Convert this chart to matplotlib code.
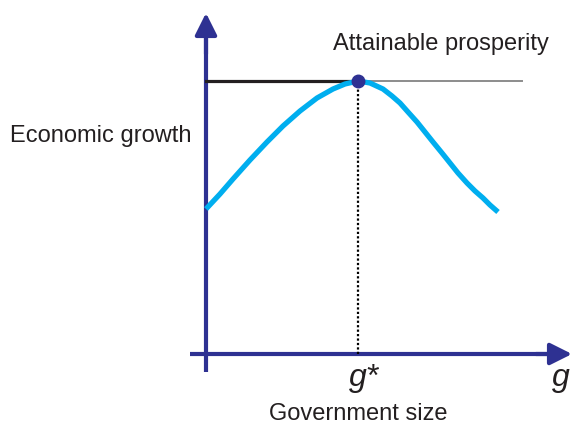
import matplotlib
matplotlib.use("Agg")
import matplotlib.pyplot as plt

plt.rcParams['font.family'] = ['Liberation Sans', 'DejaVu Sans']

# growth curve (government size, economic growth)
gov_size = [0, 0.14, 0.27, 0.44, 0.61, 0.77, 0.94, 1.11, 1.27, 1.39, 1.52, 1.64, 1.77, 1.86,
            1.94, 2.02, 2.11, 2.19, 2.27, 2.36, 2.44, 2.52, 2.61, 2.69, 2.77, 2.84, 2.92]
growth = [1.45, 1.60, 1.75, 1.94, 2.12, 2.28, 2.43, 2.56, 2.65, 2.70, 2.73, 2.71, 2.65, 2.58,
          2.51, 2.42, 2.32, 2.22, 2.12, 2.01, 1.91, 1.81, 1.71, 1.63, 1.56, 1.49, 1.42]
g_star = 1.52
peak = 2.73
prosperity_end = 3.16

navy = '#2e3192'
cyan = '#00aeef'

fig = plt.figure(figsize=(5.73, 4.25), dpi=100)
ax = fig.add_axes([0, 0, 1, 1])
ax.set_xlim(-2.06, 3.67)
ax.set_ylim(-0.71, 3.54)
ax.axis('off')

# axes with arrows
ax.plot([0, 0], [-0.18, 3.2], color=navy, lw=3, solid_capstyle='butt')
ax.plot([-0.16, 3.5], [0, 0], color=navy, lw=3, solid_capstyle='butt')
ax.annotate('', xy=(0, 3.41), xytext=(0, 3.0),
            arrowprops=dict(arrowstyle='-|>', mutation_scale=33, lw=3, color=navy,
                            shrinkA=0, shrinkB=0))
ax.annotate('', xy=(3.66, 0), xytext=(3.3, 0),
            arrowprops=dict(arrowstyle='-|>', mutation_scale=33, lw=3, color=navy,
                            shrinkA=0, shrinkB=0))

# attainable prosperity lines
ax.plot([g_star, prosperity_end], [peak, peak], color='#8c8c8c', lw=1.4)
ax.plot([0, g_star], [peak, peak], color='#231f20', lw=2.3)
ax.plot([g_star, g_star], [0, peak], color='black', lw=1.6, linestyle=(0, (1, 1)))

ax.plot(gov_size, growth, color=cyan, lw=3.8, solid_capstyle='butt', solid_joinstyle='round')
ax.plot([g_star], [peak], 'o', color=navy, markersize=9)

ax.text(1.27, 3.04, 'Attainable prosperity', fontsize=17, color='#231f20', va='baseline')
ax.text(-1.96, 2.12, 'Economic growth', fontsize=17, color='#231f20', va='baseline')
ax.text(0.63, -0.655, 'Government size', fontsize=17, color='#231f20', va='baseline')
ax.text(1.43, -0.32, 'g*', fontsize=23, style='italic', color='#231f20', va='baseline')
ax.text(3.46, -0.32, 'g', fontsize=23, style='italic', color='#231f20', va='baseline')

fig.savefig('out.png', dpi=100)
